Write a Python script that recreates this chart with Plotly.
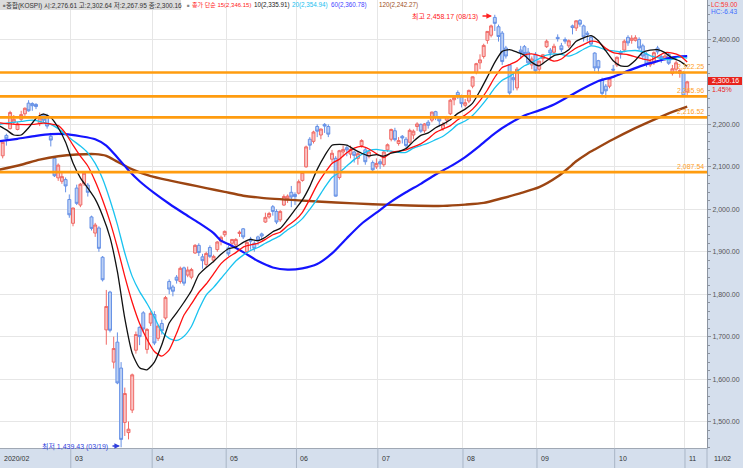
import plotly.graph_objects as go

# ---------------- data (KOSPI daily, 2020-02-04 .. 2020-11-02, trading-day index) ----------------
opens = [2126,2174,2190,2205,2188,2212,2225,2250,2249,2247,2203,2222,2220,2172,2120,2074,2066,2070,2023,
         1967,2050,2010,2060,2057,1982,1944,1956,1887,1716,1805,1640,1687,1626,1498,1474,1527,1668,1722,1756,1670,1732,
         1752,1696,1731,1744,1830,1817,1840,1830,1862,1845,1840,1897,1915,1888,1870,1910,1880,1905,1925,1940,
         1909,1920,1916,1943,1954,1900,1930,1920,1935,1942,1970,1982,2006,1995,1975,2010,2025,2040,2035,
         2038,2068,2100,2165,2160,2195,2175,2200,2195,2118,2120,2075,2135,2145,2130,2135,2120,2150,2140,2125,2110,2100,
         2112,2105,2140,2165,2185,2155,2172,2165,2158,2175,2195,2200,2185,2205,2210,2230,2215,2190,2210,2225,2258,2275,2265,
         2245,2255,2290,2322,2345,2360,2398,2410,2452,2430,2415,2380,2340,2310,2286,2375,2383,2370,2340,2365,
         2330,2355,2383,2375,2370,2405,2385,2400,2385,2432,2427,2445,2432,2415,2405,2368,2350,2305,2290,2290,2330,
         2340,2370,2375,2405,2398,2398,2400,2385,2365,2340,2345,2380,2360,2355,2365,2320,2330,2320,2320,
         2276.61]
highs = [2158,2178,2232,2222,2206,2232,2240,2257,2252,2250,2228,2226,2225,2180,2125,2108,2090,2075,2035,
         2004,2058,2062,2090,2062,1985,1968,1960,1890,1810,1808,1700,1710,1640,1580,1500,1613,1712,1724,1760,1720,1760,
         1760,1728,1740,1796,1835,1822,1845,1865,1865,1865,1862,1918,1920,1895,1900,1915,1893,1925,1938,1950,
         1915,1930,1932,1950,1956,1925,1935,1925,1938,1945,1992,1994,2010,2000,1998,2035,2035,2055,2040,
         2070,2090,2150,2170,2185,2200,2190,2203,2200,2140,2125,2140,2150,2150,2150,2138,2135,2165,2145,2140,2115,2120,
         2118,2137,2155,2190,2192,2170,2175,2170,2190,2188,2205,2202,2203,2210,2230,2232,2218,2205,2220,2260,2268,2280,2270,
         2260,2282,2313,2345,2365,2390,2420,2435,2458.17,2435,2420,2385,2342,2320,2335,2385,2387,2380,2360,2370,
         2350,2366,2400,2380,2390,2412,2392,2405,2400,2435,2445,2448,2435,2420,2410,2370,2352,2310,2295,2310,2340,
         2360,2375,2400,2410,2410,2410,2405,2390,2370,2355,2372,2385,2365,2370,2370,2340,2350,2330,2325,
         2302.64]
lows = [2120,2150,2188,2200,2186,2208,2220,2230,2232,2236,2196,2205,2190,2148,2076,2067,2060,2040,1980,
        1960,2010,2005,2055,2030,1950,1935,1900,1830,1681,1710,1625,1588,1439.43,1466,1458,1520,1660,1680,1710,1660,1725,
        1680,1690,1705,1740,1800,1795,1825,1825,1820,1840,1835,1895,1890,1860,1865,1885,1875,1900,1915,1935,
        1890,1915,1910,1935,1930,1895,1905,1900,1915,1930,1968,1978,1985,1965,1970,2008,2015,2005,2010,
        2035,2065,2098,2140,2155,2170,2165,2180,2170,2110,2030,2070,2125,2125,2120,2110,2105,2145,2105,2120,2090,2095,
        2095,2100,2135,2160,2160,2150,2155,2145,2155,2165,2185,2180,2180,2190,2205,2210,2195,2185,2200,2222,2245,2260,2240,
        2240,2250,2285,2318,2330,2355,2390,2405,2420,2395,2340,2355,2270,2280,2280,2355,2360,2340,2330,2320,
        2320,2345,2380,2355,2365,2395,2370,2390,2380,2412,2420,2430,2395,2395,2385,2325,2320,2265,2262,2285,2320,
        2335,2355,2370,2385,2390,2395,2375,2355,2335,2335,2340,2365,2345,2350,2340,2315,2320,2310,2265,
        2267.95]
closes = [2158,2166,2228,2212,2201,2223,2238,2232,2244,2242,2215,2210,2196,2163,2079,2104,2077,2055,1987,
          2003,2014,2059,2085,2040,1955,1963,1908,1834,1771,1715,1672,1591,1458,1566,1482,1610,1705,1700,1718,1717,1755,
          1685,1725,1714,1792,1812,1807,1833,1861,1826,1857,1858,1915,1898,1879,1896,1889,1889,1923,1934,1948,
          1895,1929,1929,1946,1935,1922,1925,1908,1927,1937,1981,1990,1995,1970,1995,2030,2031,2029,2030,
          2065,2087,2147,2151,2182,2184,2189,2196,2177,2132,2031,2138,2141,2140,2141,2127,2131,2162,2112,2135,2093,2108,
          2107,2135,2152,2188,2164,2162,2168,2150,2186,2184,2201,2184,2201,2198,2229,2216,2208,2200,2218,2257,2263,2267,2249,
          2251,2280,2312,2343,2352,2386,2419,2432,2438,2407,2348,2361,2274,2305,2330,2369,2367,2345,2354,2326,
          2349,2364,2396,2368,2384,2402,2376,2396,2397,2428,2444,2436,2406,2412,2389,2333,2333,2273,2279,2308,2328,
          2358,2366,2396,2392,2403,2404,2380,2361,2342,2347,2369,2371,2355,2361,2344,2331,2345,2327,2267,
          2300.16]

# month axis: label and trading-day index of the first session of that month
month_labels = ["03", "04", "05", "06", "07", "08", "09", "10", "11"]
month_first_idx = [19, 41, 61, 80, 102, 125, 145, 166, 185]

# moving averages (index, value)
ma10_idx = [-1, 1, 3, 5, 7] + list(range(9, 186, 2))
ma10_val = [2197, 2187, 2175, 2175, 2192,
            2214, 2224, 2216, 2192, 2158, 2109, 2074, 2050, 2024, 1985, 1934, 1853, 1743, 1661, 1627, 1622,
            1640, 1681, 1732, 1756, 1781, 1808, 1846, 1863, 1877, 1894, 1907, 1911, 1922, 1929, 1926, 1934,
            1947, 1955, 1976, 1999, 2022, 2054, 2094, 2126, 2151, 2153, 2151, 2141, 2132, 2126, 2129, 2125,
            2132, 2136, 2143, 2160, 2174, 2180, 2192, 2201, 2211, 2226, 2236, 2250, 2279, 2312, 2346, 2372,
            2376, 2370, 2363, 2346, 2338, 2350, 2362, 2366, 2376, 2396, 2404, 2409, 2397, 2373, 2350, 2338,
            2337, 2351, 2370, 2375, 2376, 2369, 2356, 2349, 2337]
ma15_idx = [-1, 1, 4, 8, 11, 13] + list(range(15, 186, 2))
ma15_val = [2204, 2202, 2200, 2200, 2203, 2201,
            2197, 2179, 2151, 2125, 2102, 2066, 2022, 1971, 1910, 1842, 1781, 1731, 1694, 1665, 1654, 1669,
            1708, 1751, 1777, 1804, 1824, 1848, 1872, 1887, 1898, 1911, 1916, 1920, 1929, 1940, 1946, 1961,
            1974, 1993, 2024, 2058, 2085, 2108, 2118, 2133, 2144, 2148, 2142, 2131, 2122, 2134, 2137, 2140,
            2147, 2154, 2166, 2181, 2189, 2197, 2211, 2222, 2236, 2256, 2281, 2311, 2334, 2341, 2349, 2363,
            2366, 2362, 2356, 2349, 2354, 2368, 2380, 2388, 2396, 2393, 2379, 2369, 2366, 2364, 2359, 2354,
            2351, 2360, 2369, 2368, 2362, 2347]
ma20_idx = [-1, 2, 5, 8, 11, 13, 15, 17] + list(range(19, 186, 2))
ma20_val = [2200, 2204, 2207, 2210, 2205, 2200, 2190, 2176,
            2162, 2149, 2133, 2108, 2072, 2022, 1964, 1897, 1842, 1806, 1778, 1746, 1712, 1696, 1691, 1701,
            1724, 1764, 1798, 1816, 1837, 1858, 1878, 1892, 1903, 1910, 1920, 1929, 1938, 1952, 1963, 1978,
            2000, 2024, 2051, 2075, 2087, 2102, 2117, 2129, 2138, 2141, 2138, 2137, 2134, 2134, 2144, 2150,
            2156, 2164, 2172, 2185, 2200, 2208, 2221, 2240, 2262, 2286, 2304, 2313, 2325, 2338, 2346, 2355,
            2363, 2366, 2365, 2361, 2367, 2377, 2385, 2382, 2375, 2373, 2371, 2373, 2374, 2371, 2362, 2357,
            2353, 2353, 2359, 2356]
ma60_idx = [-1, 4, 9, 13, 17, 21, 25, 28, 31, 34, 37, 41, 45, 49, 53, 57, 59, 61, 65, 69, 73, 77, 81, 85,
            89, 93, 97, 101, 105, 109, 113, 117, 121, 125, 129, 133, 137, 141, 145, 149, 153, 157, 161, 165,
            169, 173, 177, 181, 185]
ma60_val = [2160, 2166, 2173, 2177, 2177, 2172, 2165, 2150, 2122, 2092, 2066, 2038, 2013, 1990, 1968, 1944,
            1926, 1918, 1899, 1878, 1863, 1858, 1861, 1871, 1896, 1932, 1966, 1992, 2018, 2040, 2060, 2082,
            2101, 2123, 2150, 2179, 2202, 2221, 2233, 2247, 2266, 2285, 2302, 2312, 2326, 2339, 2349, 2358,
            2361]
ma120_idx = [-1, 5, 10, 15, 20, 25, 28, 31, 35, 40, 45, 50, 55, 60, 65, 70, 80, 90, 100, 110, 119, 125,
             130, 135, 140, 145, 150, 153, 155, 158, 160, 165, 170, 175, 180, 185]
ma120_val = [2093, 2105, 2117, 2125, 2129, 2130, 2126, 2112, 2094, 2078, 2068, 2059, 2050, 2041, 2032, 2027,
             2021, 2016, 2012, 2009, 2008, 2011, 2015, 2026, 2038, 2052, 2077, 2098, 2113, 2131, 2141, 2165,
             2187, 2207, 2226, 2242]

support_levels = [2322.25, 2265.96, 2216.52, 2087.54]

# ---------------- geometry helpers ----------------
PW, PH = 707.0, 448.0          # plot area in px
X0, DX = 2.7, 3.7              # px of candle 0, px per session
XMIN = -X0 / DX
XMAX = (PW - X0) / DX
YMIN, YMAX = 1437.7, 2493.0


def xp(px):
    return px / PW


def yp(py):
    return 1 - py / PH


def idx_of_px(px):
    return (px - X0) / DX


FONT = "Liberation Sans, Noto Sans CJK KR, Arial, sans-serif"
xs = list(range(len(closes)))

fig = go.Figure()
fig.add_trace(go.Candlestick(
    x=xs, open=opens, high=highs, low=lows, close=closes,
    increasing=dict(line=dict(color="#f06a66", width=1), fillcolor="#f9c3c3"),
    decreasing=dict(line=dict(color="#6590e6", width=1), fillcolor="#bcd0f4"),
    whiskerwidth=0, hoverinfo="skip", showlegend=False))

for ix, vals, col, w in [(ma120_idx, ma120_val, "#9c4512", 2.4),
                         (ma60_idx, ma60_val, "#1414ff", 2.2),
                         (ma20_idx, ma20_val, "#19c3f0", 1.3),
                         (ma15_idx, ma15_val, "#ff1010", 1.3),
                         (ma10_idx, ma10_val, "#111111", 1.3)]:
    fig.add_trace(go.Scatter(x=ix, y=vals, mode="lines",
                             line=dict(color=col, width=w, shape="spline", smoothing=0.6),
                             hoverinfo="skip", showlegend=False))

grid_x = [i - 0.6 for i in month_first_idx]

shapes = []
for lv in support_levels:
    shapes.append(dict(type="line", xref="paper", yref="y", x0=0, x1=1, y0=lv, y1=lv,
                       line=dict(color="#ff9c0f", width=2.6), layer="above"))
# bottom strip separators
strip = -20 / PH
for gx in grid_x:
    shapes.append(dict(type="line", xref="x", yref="paper", x0=gx, x1=gx, y0=strip, y1=0,
                       line=dict(color="#a9b5c6", width=1)))
shapes.append(dict(type="line", xref="paper", yref="paper", x0=1, x1=1, y0=strip, y1=0,
                   line=dict(color="#a9b5c6", width=1)))
# legend background box
shapes.append(dict(type="rect", xref="paper", yref="paper", x0=xp(0), x1=xp(181), y0=yp(10), y1=yp(0),
                   fillcolor="#dcdcdc", line=dict(width=0), layer="above"))
# current price tag
shapes.append(dict(type="rect", xref="paper", yref="paper", x0=xp(708), x1=xp(742), y0=yp(85), y1=yp(77),
                   fillcolor="#e8231c", line=dict(width=0)))

ann = []


def txt(px, py, s, color, size=7, xanchor="left"):
    ann.append(dict(xref="paper", yref="paper", x=xp(px), y=yp(py), text=s, showarrow=False,
                    xanchor=xanchor, yanchor="middle", font=dict(family=FONT, size=size, color=color)))


# top legend
txt(0.5, 5, "■", "#777777", 4.5)
txt(4, 5, "종합(KOSPI) 시:2,276.61 고:2,302.64 저:2,267.95 종:2,300.16", "#333333", 6.5)
txt(185, 5, "■", "#888888", 4.5)
txt(190, 5, "종가 단순 15(2,346.15)", "#ff2020", 6)
txt(252, 5, "10(2,335.91)", "#222222", 6.3)
txt(290, 5, "20(2,354.94)", "#20c0f0", 6.3)
txt(329, 5, "60(2,360.78)", "#4545ff", 6.3)
txt(377, 5, "120(2,242.27)", "#a0501c", 6.3)
# right panel texts
txt(709, 4.5, "LC:59.00", "#ff3030", 6.5)
txt(709, 11.5, "HC:-6.43", "#3c6cff", 6.5)
txt(725, 81, "2,300.16", "#ffffff", 7, "center")
txt(710, 89, "1.45%", "#e8231c", 7)

# support level labels
for lv in support_levels:
    ann.append(dict(xref="paper", yref="y", x=xp(706), y=lv, text=f"{lv:,.2f}", showarrow=False,
                    xanchor="right", yanchor="bottom", yshift=0,
                    font=dict(family=FONT, size=7, color="#ffa01e")))

# high / low markers
hi_y = YMAX - (16 / PH) * (YMAX - YMIN)
lo_y = YMAX - (446 / PH) * (YMAX - YMIN)
ann.append(dict(x=idx_of_px(480), y=hi_y, xref="x", yref="y", text="최고 2,458.17 (08/13)", showarrow=False,
                xanchor="right", font=dict(family=FONT, size=7, color="#ff2020")))
ann.append(dict(x=idx_of_px(492), y=hi_y, xref="x", yref="y", text="", showarrow=True, ax=-11, ay=0,
                arrowhead=2, arrowsize=0.8, arrowwidth=1.4, arrowcolor="#ff2020"))
ann.append(dict(x=idx_of_px(110), y=lo_y, xref="x", yref="y", text="최저 1,439.43 (03/19)", showarrow=False,
                xanchor="right", font=dict(family=FONT, size=7, color="#2f3fdc")))
ann.append(dict(x=idx_of_px(120), y=lo_y, xref="x", yref="y", text="", showarrow=True, ax=-9, ay=0,
                arrowhead=2, arrowsize=0.8, arrowwidth=1.4, arrowcolor="#2f3fdc"))

# bottom date labels
txt(2, 458, "2020/02", "#333333", 7)
for lab, gx in zip(month_labels, grid_x):
    txt(X0 + DX * gx + 2, 458, lab, "#333333", 7)
txt(712, 458, "11/02", "#333333", 7)

fig.update_layout(
    width=743, height=468,
    margin=dict(l=0, r=36, t=0, b=20, pad=0),
    paper_bgcolor="#d5dfed", plot_bgcolor="#ffffff",
    showlegend=False, shapes=shapes, annotations=ann,
    boxgap=0.12, boxgroupgap=0.1,
    xaxis=dict(range=[XMIN, XMAX], tickmode="array", tickvals=grid_x, showticklabels=False,
               showgrid=True, gridcolor="#e6e6e6", gridwidth=1, zeroline=False,
               showline=True, linecolor="#a0a8b4", linewidth=1, ticks="",
               rangeslider=dict(visible=False), fixedrange=True),
    yaxis=dict(range=[YMIN, YMAX], side="right", tickmode="linear", tick0=0, dtick=100,
               tickformat=",.2f", tickfont=dict(family=FONT, size=7, color="#555555"),
               ticks="outside", ticklen=3, tickcolor="#8c94a0",
               minor=dict(dtick=20, tick0=0, ticks="outside", ticklen=2, tickcolor="#8c94a0", showgrid=False),
               showgrid=True, gridcolor="#e6e6e6", zeroline=False,
               showline=True, linecolor="#8c94a0", linewidth=1, fixedrange=True),
)

fig.write_html("out.html", config={"displayModeBar": False},
               post_script="document.body.style.margin='0';document.body.style.padding='0';")
